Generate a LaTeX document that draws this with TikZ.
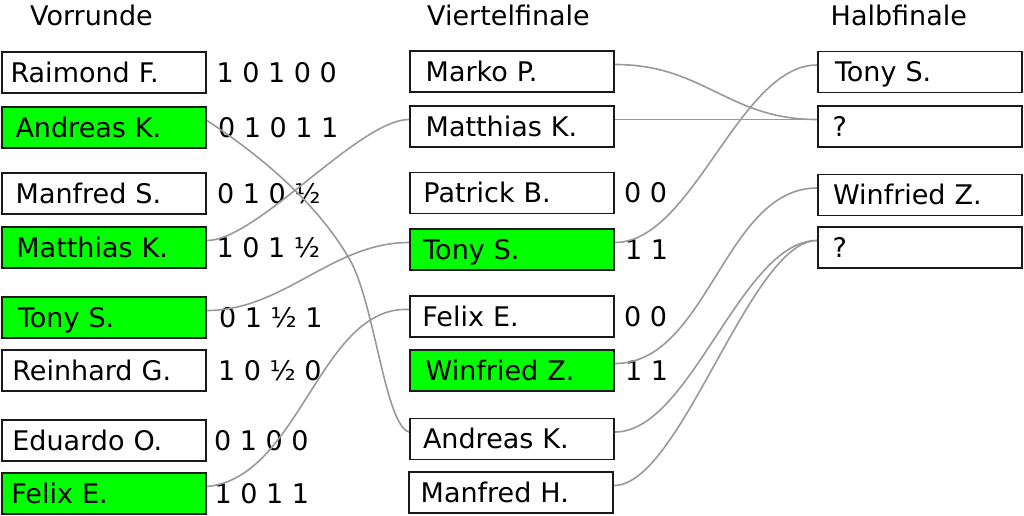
\documentclass[tikz,border=0pt]{standalone}
\usepackage{fontspec}
\setmainfont{DejaVu Sans}
\definecolor{winner}{HTML}{00FF00}
\definecolor{linegray}{HTML}{999999}
\definecolor{boxline}{HTML}{1A1A1A}
\begin{document}
\begin{tikzpicture}[x=1pt,y=-1pt,
  every node/.style={font=\fontsize{27}{32}\selectfont},
  cell/.style={draw=boxline, line width=1.9pt, minimum width=204pt, minimum height=41pt,
    inner sep=0pt, text width=204pt, align=left, text height=19.7pt, text depth=0pt},
  win/.style={cell, fill=winner},
  score/.style={anchor=west, inner sep=0pt, text height=19.7pt, text depth=0pt},
  head/.style={anchor=base west, inner sep=0pt},
  conn/.style={draw=linegray, line width=1.6pt}
]
\useasboundingbox (0,0) rectangle (1024,515);

% headings
\node[head] (h1) at (30,25) {Vorrunde};
\node[head] (h2) at (427,25) {Viertelfinale};
\node[head] (h3) at (830.5,25) {Halbfinale};

% Vorrunde
\node[cell] (lR) at (104,72.5)  {\hspace*{8.5pt}Raimond F.};
\node[win]  (lA) at (104,127.5) {\hspace*{13.5pt}Andreas K.};
\node[cell] (lM) at (104,193.5) {\hspace*{13.7pt}Manfred S.};
\node[win]  (lT) at (104,247.5) {\hspace*{14.4pt}Matthias K.};
\node[win]  (lS) at (104,317.5) {\hspace*{16pt}Tony S.};
\node[cell] (lG) at (104,370.5) {\hspace*{10.4pt}Reinhard G.};
\node[cell] (lE) at (104,440.5) {\hspace*{10.4pt}Eduardo O.};
\node[win]  (lF) at (104,493.5) {\hspace*{9.4pt}Felix E.};

\node[score] (sR) at (216.5,72.5)  {1 0 1 0 0};
\node[score] (sA) at (218,127.5) {0 1 0 1 1};
\node[score] (sM) at (217,193.5) {0 1 0 ½};
\node[score] (sT) at (216.5,247.5) {1 0 1 ½};
\node[score] (sS) at (219,317.5) {0 1 ½ 1};
\node[score] (sG) at (218,370.5) {1 0 ½ 0};
\node[score] (sE) at (214,440.5) {0 1 0 0};
\node[score] (sF) at (214.5,493.5) {1 0 1 1};

% Viertelfinale
\node[cell] (mM) at (512,71.5)  {\hspace*{15.7pt}Marko P.};
\node[cell] (mT) at (512,126.5) {\hspace*{15.7pt}Matthias K.};
\node[cell] (mP) at (512,193)   {\hspace*{13.4pt}Patrick B.};
\node[win]  (mS) at (512,249.5) {\hspace*{13.3pt}Tony S.};
\node[cell] (mF) at (512,316.5) {\hspace*{12.4pt}Felix E.};
\node[win]  (mW) at (512,370.5) {\hspace*{15.7pt}Winfried Z.};
\node[cell] (mA) at (512,439)   {\hspace*{13pt}Andreas K.};
\node[cell] (mH) at (511,492.5) {\hspace*{11.7pt}Manfred H.};

\node[score] (tP) at (624,193)   {0 0};
\node[score] (tS) at (625,249.5) {1 1};
\node[score] (tF) at (624,316.5) {0 0};
\node[score] (tW) at (625,370.5) {1 1};

% Halbfinale
\node[cell] (rS) at (920,72)    {\hspace*{17pt}Tony S.};
\node[cell] (rQ) at (920,126.5) {\hspace*{14.6pt}?};
\node[cell] (rW) at (920,195)   {\hspace*{15pt}Winfried Z.};
\node[cell] (rR) at (920,247.5) {\hspace*{14.6pt}?};

% connectors Vorrunde -> Viertelfinale
\draw[conn] ([yshift=7pt]lA.east) .. controls (290,175) and (330,225) .. (350,260)
  .. controls (375,305) and (385,425) .. ([yshift=7pt]mA.west);
\draw[conn] ([yshift=7pt]lT.east) .. controls +(50,0) and +(-50,0) .. ([yshift=7pt]mT.west);
\draw[conn] ([yshift=7pt]lS.east) .. controls +(77,0) and +(-77,0) .. ([yshift=7pt]mS.west);
\draw[conn] ([yshift=7pt]lF.east) .. controls (300,478) and (320,305) .. ([yshift=7pt]mF.west);

% connectors Viertelfinale -> Halbfinale
\draw[conn] ([yshift=7pt]mM.east) .. controls +(89,0) and +(-89,0) .. ([yshift=7pt]rQ.west);
\draw[conn] ([yshift=7pt]mT.east) -- ([yshift=7pt]rQ.west);
\draw[conn] ([yshift=7pt]mS.east) .. controls +(78,0) and +(-78,0) .. ([yshift=7pt]rS.west);
\draw[conn] ([yshift=7pt]mW.east) .. controls +(93,0) and +(-93,0) .. ([yshift=7pt]rW.west);
\draw[conn] ([yshift=7pt]mA.east) .. controls +(76,0) and +(-76,0) .. ([yshift=7pt]rR.west);
\draw[conn] ([yshift=7pt]mH.east) .. controls +(67,0) and +(-67,0) .. ([yshift=7pt]rR.west);
\end{tikzpicture}
\end{document}
